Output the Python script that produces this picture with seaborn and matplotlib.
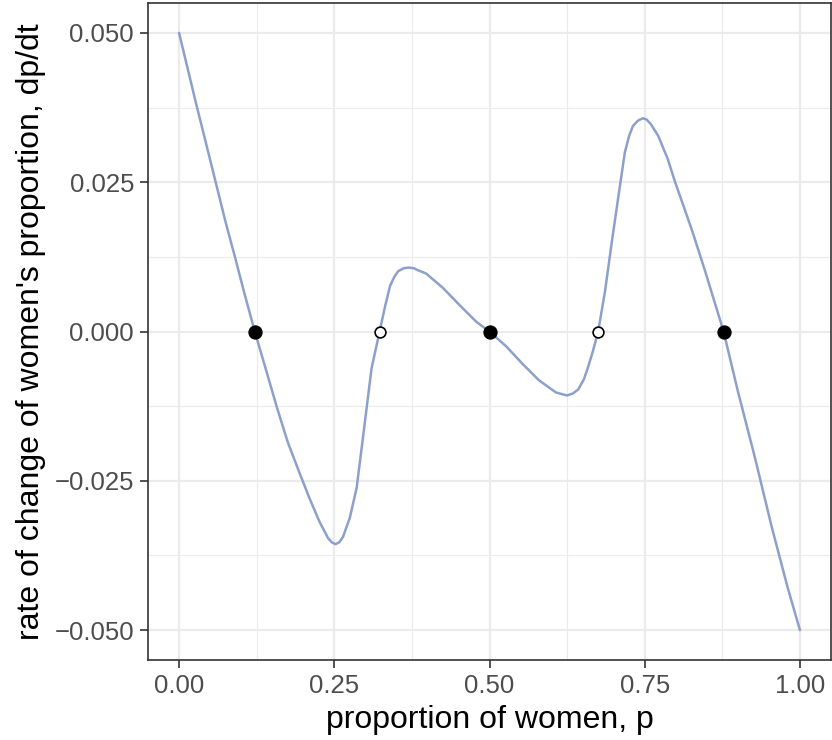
import numpy as np
import pandas as pd
import matplotlib
matplotlib.use("Agg")
import matplotlib.pyplot as plt
import seaborn as sns

# curve, dp/dt against p
p_vals = [0.000, 0.013, 0.029, 0.043, 0.059, 0.075, 0.090, 0.106, 0.122,
          0.140, 0.157, 0.175, 0.193, 0.210, 0.226, 0.240, 0.246, 0.252, 0.258,
          0.264, 0.275, 0.286, 0.294, 0.302, 0.310, 0.323, 0.332, 0.340, 0.347,
          0.353, 0.362, 0.370, 0.378, 0.386, 0.398, 0.425, 0.452, 0.479, 0.500,
          0.527, 0.553, 0.580, 0.607, 0.617, 0.625, 0.634, 0.643, 0.652, 0.658,
          0.666, 0.675, 0.686, 0.697, 0.707, 0.718, 0.725, 0.731, 0.739, 0.747,
          0.753, 0.760, 0.772, 0.787, 0.799, 0.826, 0.847, 0.877, 0.900, 0.927,
          0.954, 0.980, 1.000]
dpdt = [0.0500, 0.0444, 0.0375, 0.0317, 0.0250, 0.0183, 0.0125, 0.0061, 0.0000,
        -0.0064, -0.0125, -0.0185, -0.0234, -0.0279, -0.0318, -0.0346, -0.0353, -0.0356, -0.0353,
        -0.0344, -0.0312, -0.0262, -0.0196, -0.0129, -0.0062, 0.0000, 0.0043, 0.0077, 0.0092,
        0.0101, 0.0106, 0.0107, 0.0106, 0.0102, 0.0097, 0.0073, 0.0044, 0.0016, 0.0000,
        -0.0025, -0.0054, -0.0082, -0.0102, -0.0105, -0.0107, -0.0104, -0.0097, -0.0080, -0.0062,
        -0.0035, 0.0000, 0.0067, 0.0150, 0.0222, 0.0300, 0.0328, 0.0344, 0.0353, 0.0357,
        0.0355, 0.0347, 0.0327, 0.0289, 0.0250, 0.0170, 0.0102, 0.0000, -0.0100, -0.0209,
        -0.0325, -0.0428, -0.0500]

# equilibria
stable_p = [0.122, 0.500, 0.878]
unstable_p = [0.323, 0.675]

curve = pd.DataFrame({"p": p_vals, "dpdt": dpdt})
stable = pd.DataFrame({"p": stable_p, "dpdt": [0.0] * len(stable_p)})
unstable = pd.DataFrame({"p": unstable_p, "dpdt": [0.0] * len(unstable_p)})

sns.set_style("white")
plt.rcParams["font.family"] = ["Liberation Sans", "DejaVu Sans"]

fig = plt.figure(figsize=(8.32, 7.40), dpi=100)
ax = fig.add_axes([148 / 832, 80 / 740, 683 / 832, 657 / 740])

sns.lineplot(data=curve, x="p", y="dpdt", color="#8DA0CB", linewidth=1.8,
             sort=False, ax=ax, zorder=3, solid_joinstyle="round")
sns.scatterplot(data=stable, x="p", y="dpdt", color="black", s=90,
                edgecolor="black", linewidth=0.8, ax=ax, zorder=4)
sns.scatterplot(data=unstable, x="p", y="dpdt", facecolor="white", s=60,
                edgecolor="black", linewidth=1.2, ax=ax, zorder=4)

ax.set_xlim(-0.05, 1.05)
ax.set_ylim(-0.055, 0.055)
ax.set_xticks([0.0, 0.25, 0.5, 0.75, 1.0])
ax.set_xticklabels(["0.00", "0.25", "0.50", "0.75", "1.00"])
ax.set_yticks([-0.05, -0.025, 0.0, 0.025, 0.05])
ax.set_yticklabels(["\u22120.050", "\u22120.025", "0.000", "0.025", "0.050"])
ax.set_xticks([0.125, 0.375, 0.625, 0.875], minor=True)
ax.set_yticks([-0.0375, -0.0125, 0.0125, 0.0375], minor=True)

ax.grid(which="major", color="#EBEBEB", linewidth=1.6)
ax.grid(which="minor", color="#EBEBEB", linewidth=0.8)
ax.set_axisbelow(True)

ax.tick_params(which="major", length=6, width=1.2, color="#333333",
               labelsize=18.5, labelcolor="#4D4D4D", pad=4,
               bottom=True, left=True)
ax.tick_params(which="minor", length=0)
for sp in ax.spines.values():
    sp.set_color("#333333")
    sp.set_linewidth(1.2)

ax.set_xlabel("proportion of women, p", fontsize=23, color="black", labelpad=5)
ax.set_ylabel("rate of change of women's proportion, dp/dt", fontsize=23,
              color="black", labelpad=6)

fig.savefig("out.png", dpi=100)
